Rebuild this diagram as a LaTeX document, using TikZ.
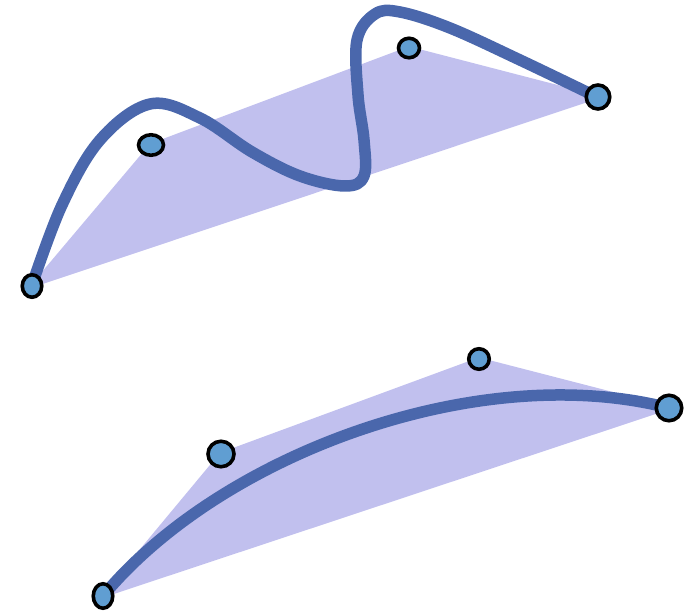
\documentclass[tikz,border=0pt]{standalone}
\usetikzlibrary{shapes.geometric}
\definecolor{hullc}{RGB}{193,192,238}
\definecolor{curvec}{RGB}{74,103,172}
\definecolor{ptc}{RGB}{96,158,210}
\tikzset{
  ctrlpt/.style={ellipse, draw=black, line width=3.6pt, fill=ptc, inner sep=0pt},
  hull/.style={fill=hullc, draw=hullc, line width=3pt, line join=round},
  curv/.style={draw=curvec, line width=11.5pt, line cap=round, line join=round}
}
\begin{document}
\begin{tikzpicture}[x=1pt,y=-1pt]
\useasboundingbox (0,0) rectangle (692,612);
% top
\coordinate (p0) at (32,286);
\coordinate (p1) at (151,145);
\coordinate (p2) at (409,48);
\coordinate (p3) at (598,97);
\filldraw[hull] (p0) -- (p1) -- (p2) -- (p3) -- cycle;
\draw[curv] plot[smooth, tension=0.6] coordinates {(32,285) (62,205) (100,140) (150,104) (200,118) (252,152) (300,176) (345,186) (364,176) (364,140) (358,95) (357,40) (375,14) (400,12) (450,28) (520,60) (597,97)};
\node[ctrlpt, minimum width=19.5pt, minimum height=22.5pt] (a0) at (p0) {};
\node[ctrlpt, minimum width=25pt, minimum height=20.5pt] (a1) at (p1) {};
\node[ctrlpt, minimum width=21pt, minimum height=19.5pt] (a2) at (p2) {};
\node[ctrlpt, minimum width=23.5pt, minimum height=24pt] (a3) at (p3) {};
% bottom
\coordinate (q0) at (103,596);
\coordinate (q1) at (221,454);
\coordinate (q2) at (479,359);
\coordinate (q3) at (669,408);
\filldraw[hull] (q0) -- (q1) -- (q2) -- (q3) -- cycle;
\draw[curv] (q0) .. controls (q1) and (q2) .. (q3);
\node[ctrlpt, minimum width=19.5pt, minimum height=24.5pt] (b0) at (q0) {};
\node[ctrlpt, minimum width=26pt, minimum height=25.5pt] (b1) at (q1) {};
\node[ctrlpt, minimum width=20.5pt, minimum height=20.5pt] (b2) at (q2) {};
\node[ctrlpt, minimum width=25.5pt, minimum height=25.5pt] (b3) at (q3) {};
\end{tikzpicture}
\end{document}
